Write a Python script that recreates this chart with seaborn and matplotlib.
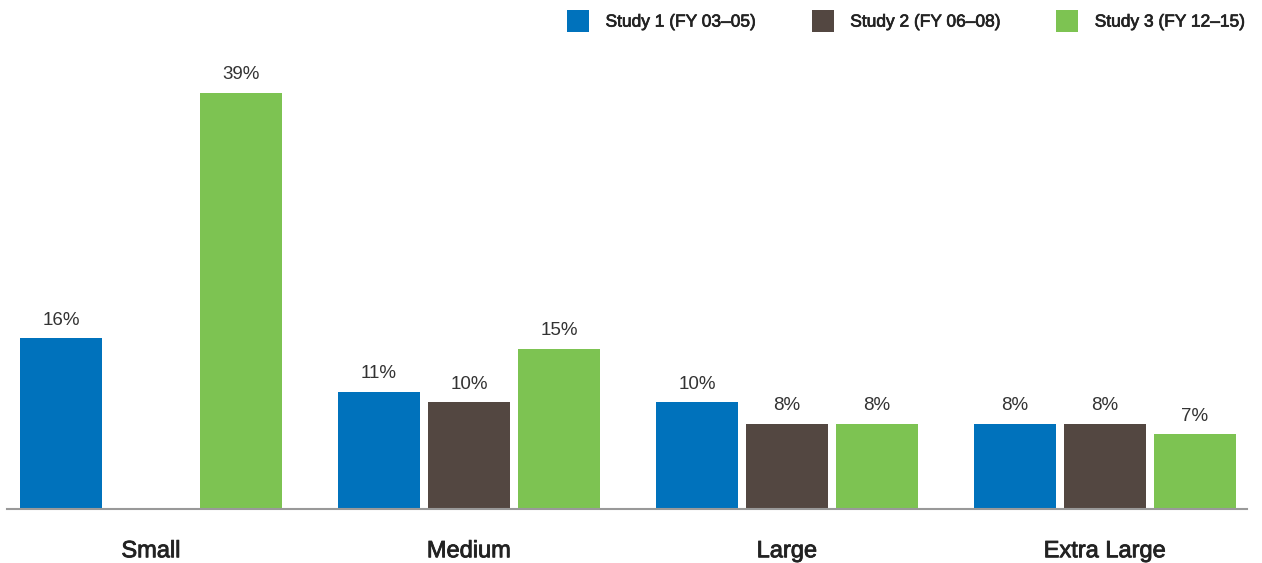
import matplotlib
matplotlib.use("Agg")
import matplotlib.pyplot as plt
import matplotlib.patheffects as pe
import seaborn as sns
import numpy as np
import pandas as pd

# Share of projects by size, per study period (percent)
categories = ["Small", "Medium", "Large", "Extra Large"]
studies = ["Study 1 (FY 03\u201305)", "Study 2 (FY 06\u201308)", "Study 3 (FY 12\u201315)"]
study1 = [16, 11, 10, 8]
study2 = [np.nan, 10, 8, 8]
study3 = [39, 15, 8, 7]
colors = ["#0072BC", "#534741", "#7DC352"]

rows = []
for name, vals in zip(studies, [study1, study2, study3]):
    for cat, v in zip(categories, vals):
        rows.append({"size": cat, "study": name, "pct": v})
df = pd.DataFrame(rows)

sns.set_theme(style="white")
plt.rcParams["font.family"] = ["Liberation Sans", "DejaVu Sans"]

# slightly heavier strokes for the category and legend text
medium = [pe.withStroke(linewidth=0.6, foreground="#222222")]

fig = plt.figure(figsize=(12.62, 5.63), dpi=100)
ax = fig.add_axes([7 / 1262, (563 - 509) / 563, 1240 / 1262, 509 / 563])

sns.barplot(data=df, x="size", y="pct", hue="study", order=categories,
            hue_order=studies, palette=colors, width=0.849, gap=0.089,
            saturation=1, linewidth=0, edgecolor="none", ax=ax, legend=True)

for cont in ax.containers:
    labels = ["" if np.isnan(v) else f"{v:g}%" for v in cont.datavalues]
    ax.bar_label(cont, labels=labels, padding=7, fontsize=13.5, color="#333333")

ax.set_xlim(-0.453, 3.447)
ax.set_ylim(0, 47.7)
ax.set_xlabel("")
ax.set_ylabel("")
ax.set_yticks([])
ax.tick_params(axis="x", length=0, pad=22.5, labelsize=17, labelcolor="#222222")
for t in ax.get_xticklabels():
    t.set_path_effects(medium)
for side in ["top", "left", "right"]:
    ax.spines[side].set_visible(False)
ax.spines["bottom"].set_color("#999999")
ax.spines["bottom"].set_linewidth(1.5)

handles, lbls = ax.get_legend_handles_labels()
leg = ax.legend(handles, lbls, ncol=3, loc="upper left",
                bbox_to_anchor=(567 / 1262, 1 - 10 / 563),
                bbox_transform=fig.transFigure, frameon=False,
                prop={"size": 12.5}, borderpad=0, borderaxespad=0,
                handlelength=1.27, handleheight=1.55, handletextpad=0.95,
                columnspacing=3.2, labelcolor="#222222")
for t in leg.get_texts():
    t.set_path_effects([pe.withStroke(linewidth=0.5, foreground="#222222")])

fig.savefig("out.png", dpi=100)
